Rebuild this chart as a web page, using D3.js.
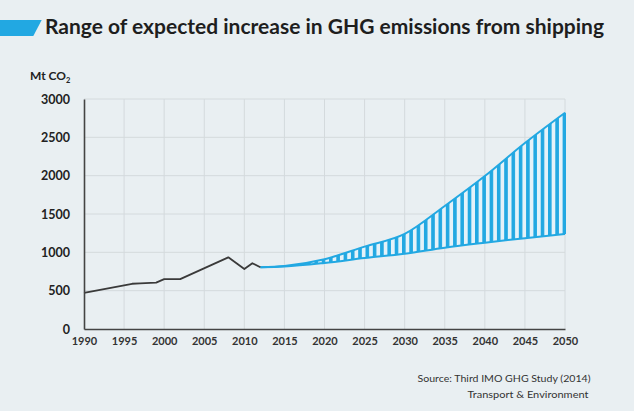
<!DOCTYPE html>
<html><head><meta charset="utf-8">
<script src="https://cdn.jsdelivr.net/npm/d3@7"></script>
<style>
html,body{margin:0;padding:0;background:#e9eff2;}
svg{display:block;}
text{font-family:Lato,"Open Sans",sans-serif;}
</style></head>
<body>
<svg id="c" width="634" height="411"></svg>
<script>
const histYears = [1990, 1996, 1997, 1999, 2000, 2002, 2008, 2010, 2011, 2012];
const histValues = [470, 590, 595, 605, 650, 650, 935, 783, 858, 805];
const projYears = [2012, 2015, 2020, 2025, 2030, 2035, 2040, 2045, 2050];
const projUpper = [805, 822, 910, 1075, 1240, 1605, 1995, 2425, 2820];
const projLower = [805, 815, 862, 925, 982, 1060, 1125, 1185, 1240];
const xTicks = [1990,1995,2000,2005,2010,2015,2020,2025,2030,2035,2040,2045,2050];
const yTicks = [0,500,1000,1500,2000,2500,3000];

const svg = d3.select("#c");
const blue = "#22a8e2";
svg.append("rect").attr("width",634).attr("height",411).attr("fill","#e9eff2");

const x = d3.scaleLinear().domain([1990,2050]).range([84,565]);
const y = d3.scaleLinear().domain([0,3000]).range([329,99]);

// title
svg.append("path").attr("d","M0,20L41.7,20L33.3,36L0,36Z").attr("fill",blue);
svg.append("text").attr("x",45).attr("y",33.5).attr("font-size",20).attr("font-weight",700)
  .attr("fill","#1e1e1e").attr("textLength",559).attr("lengthAdjust","spacingAndGlyphs")
  .text("Range of expected increase in GHG emissions from shipping");

// unit label
const ut = svg.append("text").attr("x",30).attr("y",80).attr("font-size",12).attr("font-weight",700).attr("fill","#222");
ut.append("tspan").text("Mt CO");
ut.append("tspan").attr("font-size",7.5).attr("dy",3).text("2");

// grid
const g = svg.append("g");
g.selectAll(".vg").data(xTicks.slice(1)).join("line")
  .attr("x1",d=>x(d)).attr("x2",d=>x(d)).attr("y1",y(3000)).attr("y2",y(0))
  .attr("stroke","#d4dadd").attr("stroke-width",1);
g.selectAll(".hg").data(yTicks.slice(1)).join("line")
  .attr("x1",x(1990)).attr("x2",x(2050)).attr("y1",d=>y(d)).attr("y2",d=>y(d))
  .attr("stroke","#d4dadd").attr("stroke-width",1);

// pattern
const defs = svg.append("defs");
const pat = defs.append("pattern").attr("id","stripes").attr("patternUnits","userSpaceOnUse")
  .attr("width",7.3).attr("height",10).attr("x",0.5);
pat.append("rect").attr("width",7.3).attr("height",10).attr("fill","#e4f2f9");
pat.append("rect").attr("width",3.6).attr("height",10).attr("fill",blue);

const projData = projYears.map((yr,i)=>({yr, up:projUpper[i], lo:projLower[i]}));
const area = d3.area().x(d=>x(d.yr)).y0(d=>y(d.lo)).y1(d=>y(d.up)).curve(d3.curveMonotoneX);
svg.append("path").datum(projData).attr("d",area).attr("fill","url(#stripes)");
const lineUp = d3.line().x(d=>x(d.yr)).y(d=>y(d.up)).curve(d3.curveMonotoneX);
const lineLo = d3.line().x(d=>x(d.yr)).y(d=>y(d.lo)).curve(d3.curveMonotoneX);
svg.append("path").datum(projData).attr("d",lineUp).attr("fill","none").attr("stroke",blue).attr("stroke-width",2);
svg.append("path").datum(projData).attr("d",lineLo).attr("fill","none").attr("stroke",blue).attr("stroke-width",2);
// right edge
svg.append("line").attr("x1",x(2050)).attr("x2",x(2050)).attr("y1",y(projUpper[projUpper.length-1])).attr("y2",y(projLower[projLower.length-1]))
  .attr("stroke",blue).attr("stroke-width",2);

// historical
const histData = histYears.map((yr,i)=>({yr, v:histValues[i]}));
svg.append("path").datum(histData).attr("d",d3.line().x(d=>x(d.yr)).y(d=>y(d.v)))
  .attr("fill","none").attr("stroke","#3a3a3a").attr("stroke-width",1.8).attr("stroke-linejoin","round");

// axes
const xAxis = svg.append("g").attr("transform",`translate(0,${y(0)})`)
  .call(d3.axisBottom(x).tickValues(xTicks).tickFormat(d3.format("d")).tickSize(0).tickPadding(8));
xAxis.select(".domain").attr("stroke","#444").attr("stroke-width",1.6);
xAxis.selectAll("text").attr("font-size",11).attr("font-weight",700).attr("fill","#333")
  .attr("font-family","Lato,sans-serif");
const yAxis = svg.append("g").attr("transform",`translate(${x(1990)},0)`)
  .call(d3.axisLeft(y).tickValues(yTicks).tickFormat(d3.format("d")).tickSize(0).tickPadding(14));
yAxis.select(".domain").attr("stroke","#444").attr("stroke-width",1.6);
yAxis.selectAll("text").attr("font-size",12.5).attr("font-weight",700).attr("fill","#222")
  .attr("font-family","Lato,sans-serif");

// source
svg.append("text").attr("x",590.5).attr("y",382).attr("text-anchor","end").attr("font-size",10)
  .attr("fill","#333").attr("textLength",173).attr("lengthAdjust","spacingAndGlyphs")
  .text("Source: Third IMO GHG Study (2014)");
svg.append("text").attr("x",588.5).attr("y",398).attr("text-anchor","end").attr("font-size",10)
  .attr("fill","#333").attr("textLength",121).attr("lengthAdjust","spacingAndGlyphs")
  .text("Transport & Environment");
</script>
</body></html>
